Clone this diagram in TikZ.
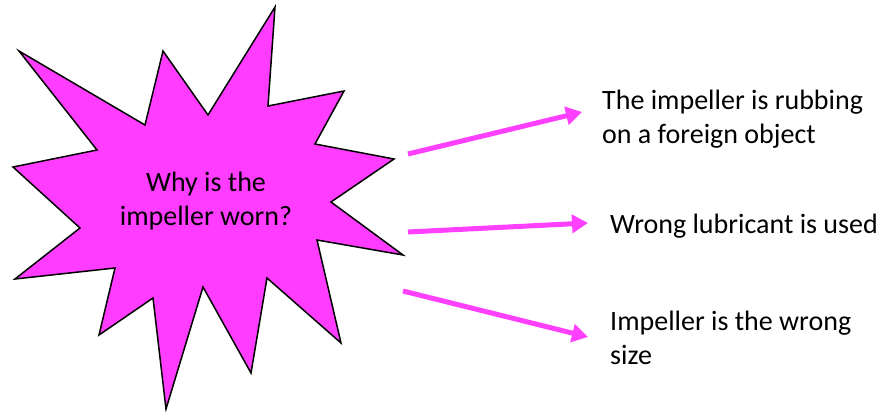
\documentclass[tikz,border=0pt]{standalone}
\usepackage{fontspec}
\setmainfont{Carlito}
\usetikzlibrary{arrows.meta}
\definecolor{burst}{RGB}{255,60,255}
\definecolor{link}{RGB}{255,64,255}
\tikzset{
  burstshape/.style={fill=burst, draw=black, line width=1.5pt, line join=miter},
  cause/.style={font=\fontsize{28}{34}\selectfont, inner sep=0pt, align=left, anchor=base west},
  question/.style={font=\fontsize{28}{34}\selectfont, inner sep=0pt, align=center},
  link/.style={draw=link, line width=5pt, -{Triangle[length=16pt,width=18pt]}, shorten >=0pt}
}
\begin{document}
\begin{tikzpicture}[x=1pt,y=-1pt]
\useasboundingbox (0,0) rectangle (883,412);
% the starburst
\draw[burstshape] (275,7) -- (268,106) -- (344,91) -- (315,144) -- (394,159)
  -- (331,202) -- (403,255) -- (317,240) -- (341,343) -- (267,278)
  -- (251,373) -- (203,287) -- (166,409) -- (153,298) -- (99,335)
  -- (115,268) -- (15,279) -- (80,228) -- (13,167) -- (97,150)
  -- (19,51) -- (145,125) -- (163,51) -- (208,115) -- cycle;
\node[question] (q) at (206,201) {Why is the\\impeller worn?};
% possible causes (base anchor sits on the last line)
\node[cause] (c1) at (602,143) {The impeller is rubbing\\on a foreign object};
\node[cause] (c2) at (610,233) {Wrong lubricant is used};
\node[cause] (c3) at (610,364) {Impeller is the wrong\\size};
% arrow ends
\coordinate (s1) at (408,154); \coordinate (e1) at (582,112);
\coordinate (s2) at (408,232); \coordinate (e2) at (588,223);
\coordinate (s3) at (403,291); \coordinate (e3) at (588,337);
\draw[link] (s1) -- (e1);
\draw[link] (s2) -- (e2);
\draw[link] (s3) -- (e3);
\end{tikzpicture}
\end{document}
